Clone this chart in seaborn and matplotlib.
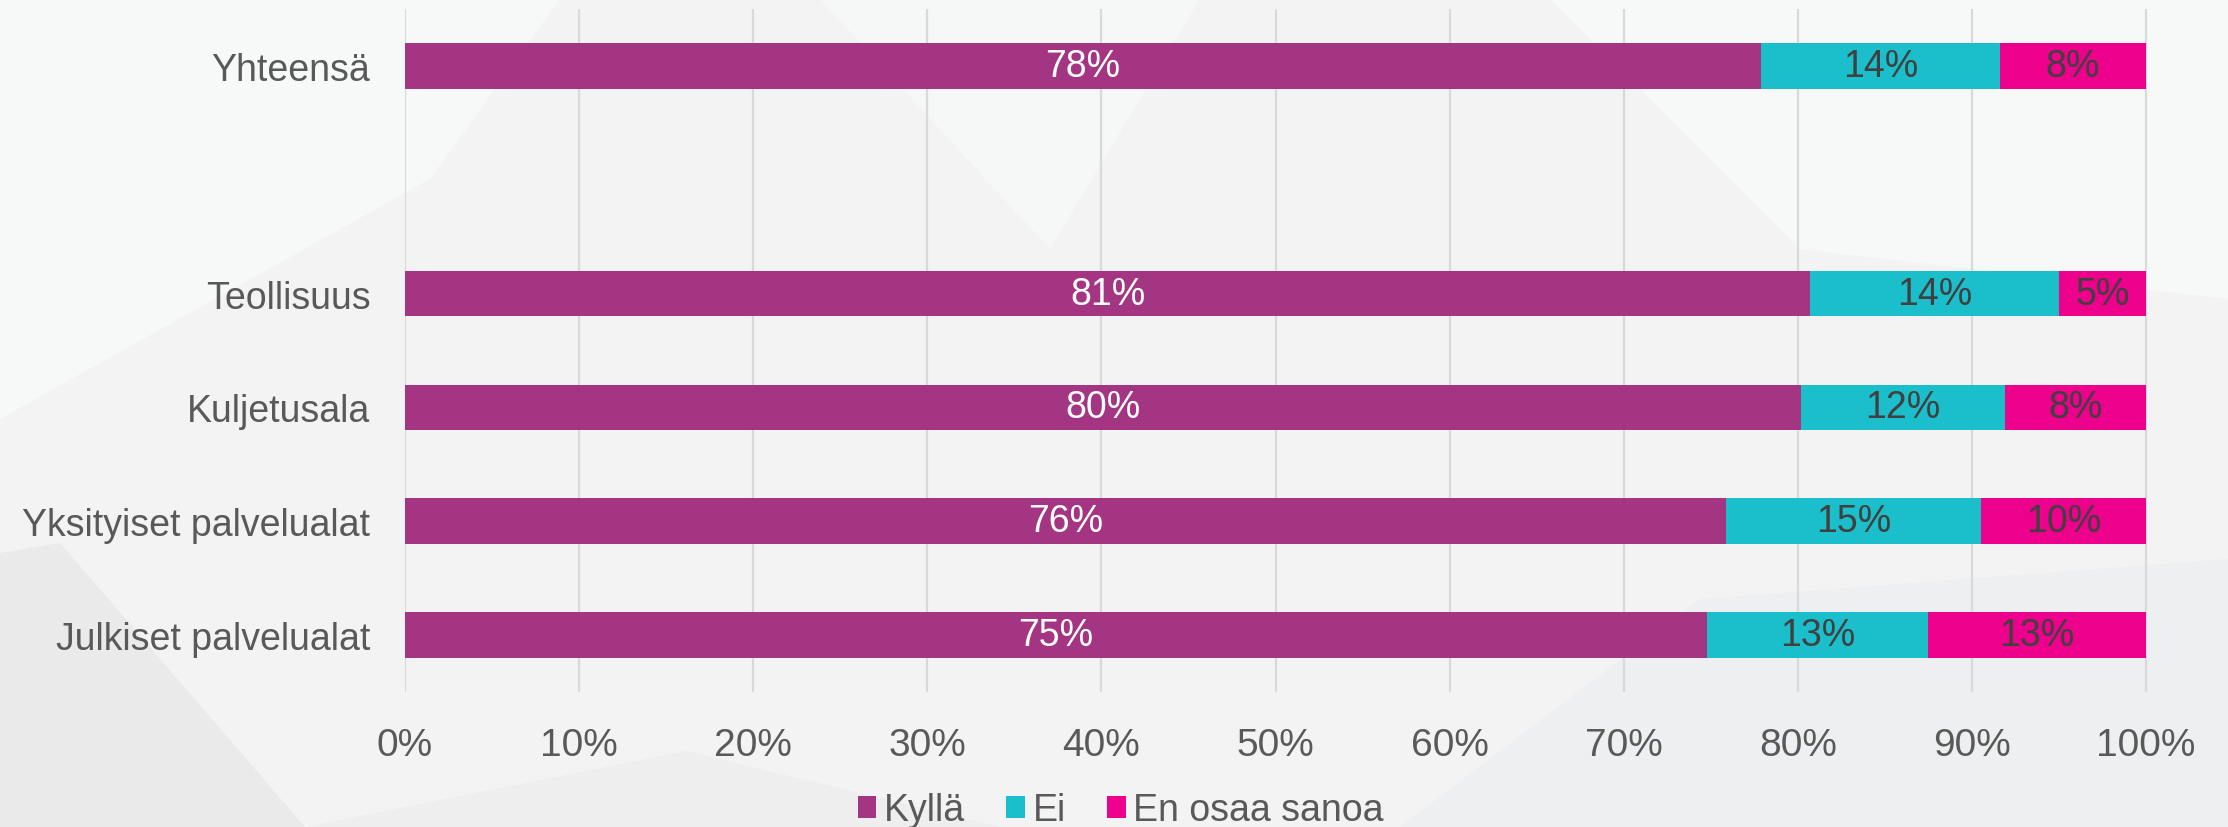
import matplotlib
matplotlib.use("Agg")
import matplotlib.pyplot as plt
import seaborn as sns
import pandas as pd
from matplotlib.patches import Patch, Polygon

categories = ["Yhteensä", "Teollisuus", "Kuljetusala", "Yksityiset palvelualat", "Julkiset palvelualat"]
order = ["Yhteensä", " ", "Teollisuus", "Kuljetusala", "Yksityiset palvelualat", "Julkiset palvelualat"]
kylla = [77.9, 80.7, 80.2, 75.9, 74.8]
ei = [13.7, 14.3, 11.7, 14.6, 12.7]
eos = [8.4, 5.0, 8.1, 9.5, 12.5]
kylla_lbl = ["78%", "81%", "80%", "76%", "75%"]
ei_lbl = ["14%", "14%", "12%", "15%", "13%"]
eos_lbl = ["8%", "5%", "8%", "10%", "13%"]
series_names = ["Kyllä", "Ei", "En osaa sanoa"]
colors = ["#A33583", "#1BBECB", "#EC008C"]
xticks = [0, 10, 20, 30, 40, 50, 60, 70, 80, 90, 100]

sns.set_theme(style="white")
plt.rcParams["font.family"] = ["Liberation Sans", "DejaVu Sans"]

bg = "#F3F3F3"
W, H = 2228.0, 828.0
fig = plt.figure(figsize=(22.28, 8.28), dpi=100, facecolor=bg)

# subtle decorative background facets (pixel coords -> figure fraction)
facets = [
    ([(0, 0), (560, 0), (430, 180), (0, 420)], "#F7F8F8"),
    ([(0, 554), (60, 544), (305, 828), (0, 828)], "#EAEAEA"),
    ([(305, 828), (686, 752), (1000, 828)], "#EEEEEE"),
    ([(1400, 828), (1700, 600), (2228, 560), (2228, 828)], "#EEEFF0"),
    ([(1550, 0), (2228, 0), (2228, 300), (1800, 250)], "#F7F8F8"),
    ([(820, 0), (1200, 0), (1050, 250)], "#F6F7F7"),
]
for pts, c in facets:
    poly = Polygon([(x / W, 1 - y / H) for x, y in pts], closed=True,
                   transform=fig.transFigure, facecolor=c, edgecolor="none", zorder=-10)
    fig.add_artist(poly)

ax = fig.add_axes([0.1818, 0.163, 0.7845, 0.825])
ax.set_facecolor("none")
ax.set_zorder(1)

df = pd.DataFrame({"cat": categories, "k": kylla, "e": ei, "n": eos})
df["ke"] = df["k"] + df["e"]
df["ken"] = df["ke"] + df["n"]

for col, c in [("ken", colors[2]), ("ke", colors[1]), ("k", colors[0])]:
    sns.barplot(data=df, y="cat", x=col, order=order, color=c, width=0.4,
                orient="h", ax=ax, linewidth=0, saturation=1, zorder=3)

ax.set_xlim(0, 100.4)
ax.set_ylim(5.5, -0.5)
ax.set_xticks(xticks)
ax.set_xticklabels([f"{t}%" for t in xticks])
ax.xaxis.grid(True, color="#D9D9D9", linewidth=1.6, zorder=0)
ax.set_axisbelow(True)
for s in ax.spines.values():
    s.set_visible(False)
ax.set_xlabel("")
ax.set_ylabel("")
ax.tick_params(axis="x", length=0, pad=25, labelsize=28, labelcolor="#595959")
ax.tick_params(axis="y", length=0, pad=25, labelsize=27, labelcolor="#595959")

pos = {c: order.index(c) for c in categories}
for i, c in enumerate(categories):
    y = pos[c]
    ax.text(kylla[i] / 2, y, kylla_lbl[i], ha="center", va="center", color="white", fontsize=27, zorder=5)
    ax.text(kylla[i] + ei[i] / 2, y, ei_lbl[i], ha="center", va="center", color="#404040", fontsize=27, zorder=5)
    ax.text(kylla[i] + ei[i] + eos[i] / 2, y, eos_lbl[i], ha="center", va="center", color="#404040", fontsize=27, zorder=5)

handles = [Patch(facecolor=colors[j], edgecolor="none", label=series_names[j]) for j in range(3)]
leg = fig.legend(handles=handles, loc="center", bbox_to_anchor=(0.503, 0.02), ncol=3, frameon=False,
                 handlelength=0.5, handleheight=0.5, handletextpad=0.2, columnspacing=1.1,
                 prop={"size": 27})
for t in leg.get_texts():
    t.set_color("#595959")

fig.savefig("out.png", dpi=100, facecolor=bg)
